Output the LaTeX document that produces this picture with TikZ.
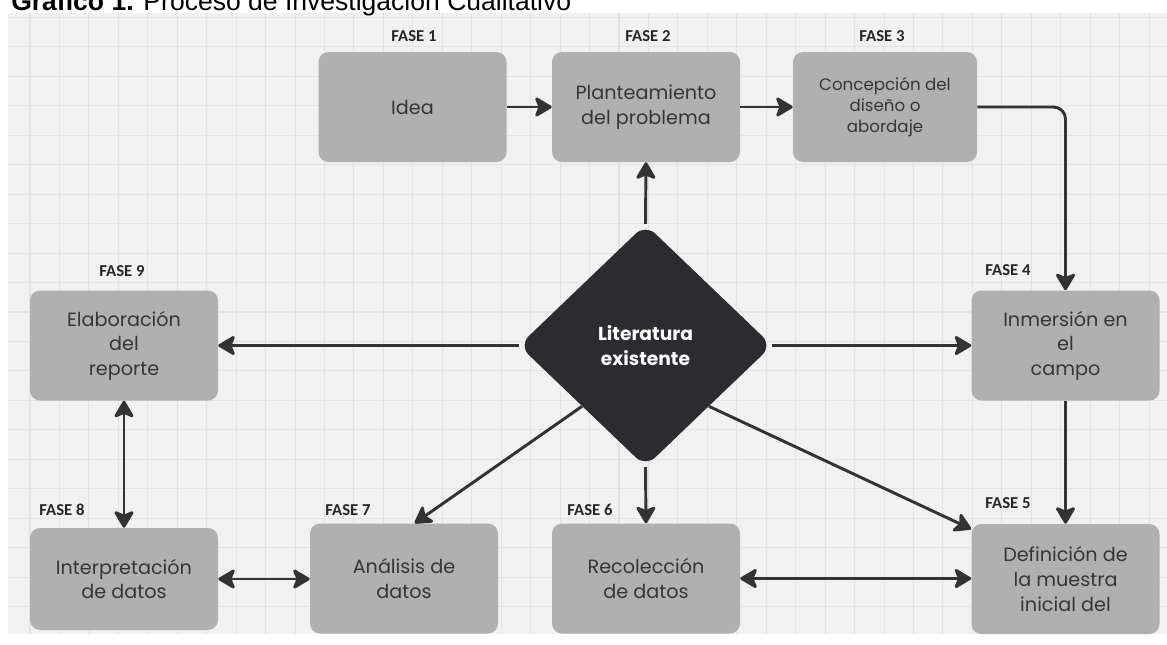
\documentclass[tikz,border=0pt]{standalone}
\usepackage{fontspec}
\usetikzlibrary{arrows.meta,shapes.geometric}
\newfontfamily\poppins{Poppins}
\newfontfamily\carlito{Carlito}
\newfontfamily\arialf{Liberation Sans}
\definecolor{bgc}{HTML}{F1F1F1}
\definecolor{gridc}{HTML}{E3E3E3}
\definecolor{boxc}{HTML}{B0B0B0}
\definecolor{txt}{HTML}{363636}
\definecolor{dia}{HTML}{2B2B30}
\definecolor{arrc}{HTML}{333333}
\begin{document}
\begin{tikzpicture}[x=0.75pt,y=-0.75pt,
  phase/.style={rounded corners=7.5pt, fill=boxc, minimum width=141pt, minimum height=82.5pt,
    align=center, text=txt, font=\poppins\fontsize{14.4}{18.4}\selectfont, inner sep=0pt},
  lbl/.style={font=\carlito\bfseries\fontsize{12.5}{14}\selectfont, text=black!85, inner sep=0pt},
  conn/.style={draw=arrc, line width=2.2pt, >={Stealth[length=14.5pt,width=17pt,inset=3.5pt,round]}},
  gridline/.style={draw=gridc, line width=0.8pt}]
\useasboundingbox (0,0) rectangle (1167,644);
\clip (0,0) rectangle (1167,644);
\fill[white] (0,0) rectangle (1167,644);
\fill[bgc] (8,13) rectangle (1167,634);
\foreach \i in {0,...,38} \draw[gridline] ({30+29.45*\i},13) -- ({30+29.45*\i},634);
\foreach \k in {0,...,20} \draw[gridline] (8,{17.5+29.45*\k}) -- (1167,{17.5+29.45*\k});

\node[anchor=base west, inner sep=0pt, font=\arialf\fontsize{19.9}{24}\selectfont] (title) at (11,10.5)
  {\textbf{Gráfico 1.} Proceso de Investigación Cualitativo};

\node[phase] (b1) at (412.5,107) {Idea};
\node[phase] (b2) at (646,107) {Planteamiento\\del problema};
\node[phase, minimum width=138pt, font=\poppins\fontsize{12.5}{15.75}\selectfont] (b3) at (885,107) {Concepción del\\diseño o\\abordaje};
\node[phase] (b4) at (1065.5,345.5) {Inmersión en\\el\\campo};
\node[phase] (b5) at (1065.5,579) {Definición de\\la muestra\\inicial del};
\node[phase] (b6) at (646,578.5) {Recolección\\de datos};
\node[phase] (b7) at (404,578.5) {Análisis de\\datos};
\node[phase, minimum height=76.5pt] (b8) at (124,579) {Interpretación\\de datos};
\node[phase] (b9) at (124,345.5) {Elaboración\\del\\reporte};

\node[diamond, fill=dia, rounded corners=10pt, minimum width=190pt, minimum height=182pt, inner sep=0pt,
  text=white, font=\poppins\bfseries\fontsize{14}{18.5}\selectfont, align=center] (D) at (645.5,345.5)
  {Literatura\\existente};

\node[lbl] (f1) at (414,36) {FASE 1};
\node[lbl] (f2) at (648,36) {FASE 2};
\node[lbl] (f3) at (882,36) {FASE 3};
\node[lbl] (f4) at (1008,270) {FASE 4};
\node[lbl] (f5) at (1008,503) {FASE 5};
\node[lbl] (f6) at (590,510) {FASE 6};
\node[lbl] (f7) at (348,510) {FASE 7};
\node[lbl] (f8) at (62,510) {FASE 8};
\node[lbl] (f9) at (122,271) {FASE 9};

\draw[conn,->] (b1) -- (b2);
\draw[conn,->] (b2) -- (b3);
\draw[conn,->,rounded corners=9pt] (b3.east) -| (b4.north);
\draw[conn,->] (b4) -- (b5);
\draw[conn,->] (D.north) -- (b2.south);
\draw[conn,->] (D.west) -- (b9.east);
\draw[conn,->] (D.east) -- (b4.west);
\draw[conn,->] (D.south) -- (b6.north);
\draw[conn,->] (D.south west) -- ([xshift=8pt]b7.north);
\draw[conn,->] (D.south east) -- ([yshift=-4pt]b5.north west);
\draw[conn,<->] (b6.east) -- (b6.east -| b5.west);
\draw[conn,<->] (b8.east) -- (b8.east -| b7.west);
\draw[conn,<->] (b9) -- (b8);
\end{tikzpicture}
\end{document}
